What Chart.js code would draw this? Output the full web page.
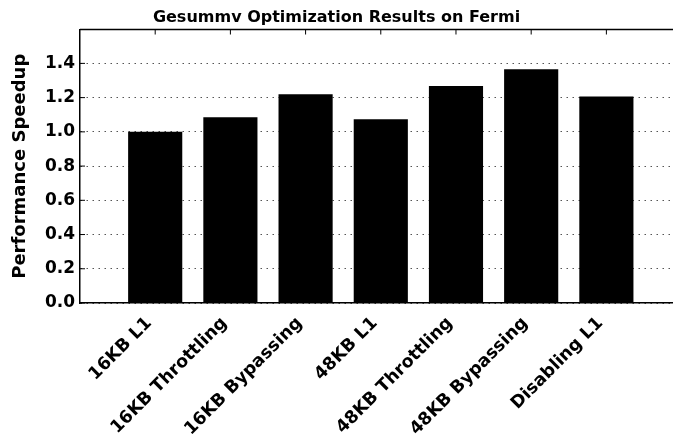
<!DOCTYPE html>
<html>
<head>
<meta charset="utf-8">
<script src="https://cdn.jsdelivr.net/npm/chart.js@4.4.1/dist/chart.umd.min.js"></script>
<style>
  html, body { margin: 0; padding: 0; background: #fff; overflow: hidden; }
  #wrap { position: relative; width: 673px; height: 438px; }
</style>
</head>
<body>
<div id="wrap"><canvas id="chart"></canvas></div>
<script>
// Chart data
const categories = [
  "16KB L1",
  "16KB Throttling",
  "16KB Bypassing",
  "48KB L1",
  "48KB Throttling",
  "48KB Bypassing",
  "Disabling L1",
];
const speedup = [1.0, 1.085, 1.22, 1.073, 1.268, 1.366, 1.206];
const yTicks = [0.0, 0.2, 0.4, 0.6, 0.8, 1.0, 1.2, 1.4];

const FONT = "'DejaVu Sans', sans-serif";

// Frame on top and small inward tick marks (matplotlib style)
const framePlugin = {
  id: "frame",
  afterDraw(chart) {
    const { ctx, chartArea, scales } = chart;
    ctx.save();
    ctx.strokeStyle = "#000";
    ctx.lineWidth = 1.5;
    ctx.beginPath();
    ctx.moveTo(chartArea.left, chartArea.top);
    ctx.lineTo(chartArea.right, chartArea.top);
    ctx.stroke();

    ctx.lineWidth = 1;
    scales.x.ticks.forEach((t) => {
      const px = scales.x.getPixelForValue(t.value);
      ctx.beginPath();
      ctx.moveTo(px, chartArea.top);
      ctx.lineTo(px, chartArea.top + 5);
      ctx.moveTo(px, chartArea.bottom);
      ctx.lineTo(px, chartArea.bottom - 5);
      ctx.stroke();
    });
    scales.y.ticks.forEach((t) => {
      const py = scales.y.getPixelForValue(t.value);
      ctx.beginPath();
      ctx.moveTo(chartArea.left, py);
      ctx.lineTo(chartArea.left + 5, py);
      ctx.stroke();
    });
    ctx.restore();
  },
};

const ctx = document.getElementById("chart");
new Chart(ctx, {
  type: "bar",
  data: {
    datasets: [
      {
        data: speedup.map((v, i) => ({ x: i + 1, y: v })),
        backgroundColor: "#000",
        borderWidth: 0,
        barPercentage: 0.72,
        categoryPercentage: 1.0,
      },
    ],
  },
  options: {
    responsive: true,
    maintainAspectRatio: false,
    animation: false,
    layout: { padding: 0 },
    plugins: {
      legend: { display: false },
      tooltip: { enabled: false },
      title: {
        display: true,
        text: "Gesummv Optimization Results on Fermi",
        color: "#000",
        font: { family: FONT, size: 16, weight: "bold", lineHeight: 1.2 },
        padding: { top: 8, bottom: 2.3 },
      },
    },
    scales: {
      x: {
        type: "linear",
        offset: false,
        min: 0,
        max: 7.886,
        afterBuildTicks: (scale) => {
          scale.ticks = categories.map((c, i) => ({ value: i + 1 }));
        },
        afterFit: (scale) => {
          scale.height = 135;
        },
        grid: { display: false, drawTicks: false, offset: false },
        border: { color: "#000", width: 1.5 },
        ticks: {
          autoSkip: false,
          minRotation: 45,
          maxRotation: 45,
          padding: 10,
          labelOffset: -6,
          color: "#000",
          font: { family: FONT, size: 17.5, weight: "bold" },
          callback: (v) => categories[v - 1] || "",
        },
      },
      y: {
        min: 0,
        max: 1.598,
        afterBuildTicks: (scale) => {
          scale.ticks = yTicks.map((v) => ({ value: v }));
        },
        afterFit: (scale) => {
          scale.width = 80;
        },
        grid: { color: "#555", lineWidth: 1, drawTicks: false },
        border: { color: "#000", width: 1.5, dash: [1.5, 4.5] },
        ticks: {
          padding: 5,
          color: "#000",
          font: { family: FONT, size: 17, weight: "bold" },
          callback: (v) => v.toFixed(1),
        },
        title: {
          display: true,
          text: "Performance Speedup",
          color: "#000",
          font: { family: FONT, size: 18, weight: "bold" },
          padding: { top: 10, bottom: 0 },
        },
      },
    },
  },
  plugins: [framePlugin],
});
</script>
</body>
</html>
